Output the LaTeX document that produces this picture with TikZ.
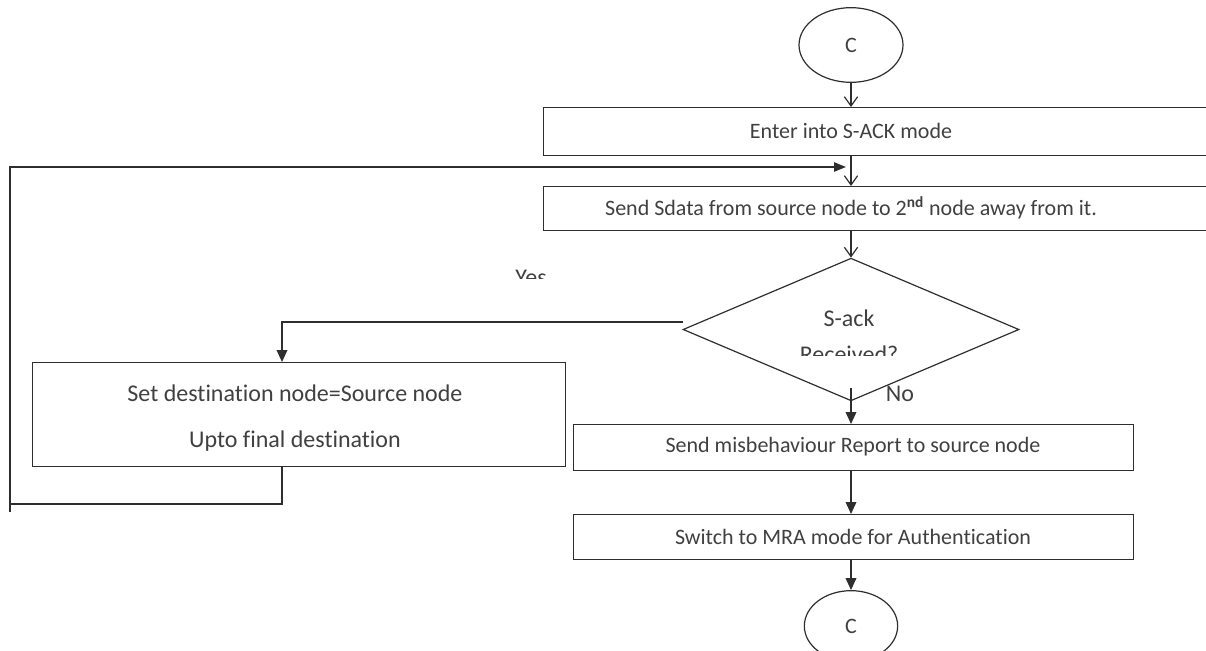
\documentclass[tikz,border=0pt]{standalone}
\usepackage{fontspec}
\setmainfont{Carlito}[Ligatures=NoCommon]
\usetikzlibrary{shapes.geometric,arrows.meta,calc}
\definecolor{ln}{HTML}{2E2E2E}
\definecolor{tx}{HTML}{404040}
\tikzset{
  box/.style={draw=ln, line width=1.1pt, rectangle, inner sep=0pt},
  oval/.style={draw=ln, line width=0.9pt, ellipse, inner sep=0pt},
  dia/.style={draw=ln, line width=0.9pt, diamond, inner sep=0pt},
  txt/.style={text=tx, font=\fontsize{16.5}{19}\selectfont, inner sep=0pt},
  bigtxt/.style={text=tx, font=\fontsize{18}{21}\selectfont, inner sep=0pt},
  vline/.style={draw=ln, line width=1.1pt},
  openarr/.style={vline, -{Straight Barb[length=7pt,width=10pt,line width=0.9pt]}},
  fillarr/.style={vline, -{Triangle[length=9pt,width=8pt]}},
}
\begin{document}
\begin{tikzpicture}[x=0.75pt,y=-0.75pt]
\useasboundingbox (0,0) rectangle (1206,650);
\clip (0,0) rectangle (1206,650);

% connector ovals
\node[oval, minimum width=78pt, minimum height=56pt] (c1) at (851,45) {};
\node[txt] at (851,45) {C};
\node[oval, minimum width=70pt, minimum height=53pt] (c2) at (851,626) {};
\node[txt] at (851,626) {C};

% process boxes (the two upper ones run past the right edge)
\node[box, anchor=north west, minimum width=540pt, minimum height=36pt] (b1) at (543,107) {};
\node[txt] at (851,131) {Enter into S-ACK mode};
\node[box, anchor=north west, minimum width=540pt, minimum height=33pt] (b2) at (543,186) {};
\node[txt] at (851,208) {Send Sdata from source node to 2\textsuperscript{\textbf{nd}} node away from it.};

% decision
\node[dia, minimum width=252pt, minimum height=107pt] (d) at (851,329.5) {};
\node[bigtxt, anchor=base] at (849,326) {S-ack};
\begin{scope}
  \clip (700,300) rectangle (1000,355);
  \node[bigtxt, anchor=base] at (849,362) {Received?};
\end{scope}
\begin{scope}
  \clip (480,250) rectangle (580,278);
  \node[bigtxt, anchor=base] at (531,285) {Yes};
\end{scope}
\node[bigtxt] at (900,394) {No};

% yes branch
\node[box, anchor=north west, minimum width=399.75pt, minimum height=78pt] (b3) at (32,362) {};
\node[bigtxt] at (295,393) {Set destination node=Source node};
\node[bigtxt] at (295,441) {Upto final destination};
\coordinate (b3in) at (282,362);
\coordinate (b3out) at (282,466);

% no branch
\node[box, anchor=north west, minimum width=420pt, minimum height=34.5pt] (b4) at (573,424) {};
\node[txt] at (853,447) {Send misbehaviour Report to source node};
\node[box, anchor=north west, minimum width=420pt, minimum height=33.75pt] (b5) at (573,514) {};
\node[txt] at (853,537) {Switch to MRA mode for Authentication};

% flow
\draw[openarr] (c1.south) -- (c1.south |- b1.north);
\draw[openarr] (b1.south -| c1.south) -- (c1.south |- b2.north);
\draw[openarr] (b2.south -| c1.south) -- (d.north);

\coordinate (ys) at (683,322);
\draw[fillarr] (ys) -| (b3in);

\coordinate (nd) at (851,388);
\draw[fillarr] (nd) -- (b4.north -| nd);
\draw[fillarr] (b4.south -| nd) -- (b5.north -| nd);
\draw[fillarr] (b5.south -| nd) -- (c2.north);

% loop back from the yes branch
\coordinate (lp) at (846,167);
\draw[vline] (b3out) -- ++(0,38) -| (10,512);
\draw[vline, -{Triangle[length=9pt,width=7pt]}] (10,504) |- (lp);
\end{tikzpicture}
\end{document}
